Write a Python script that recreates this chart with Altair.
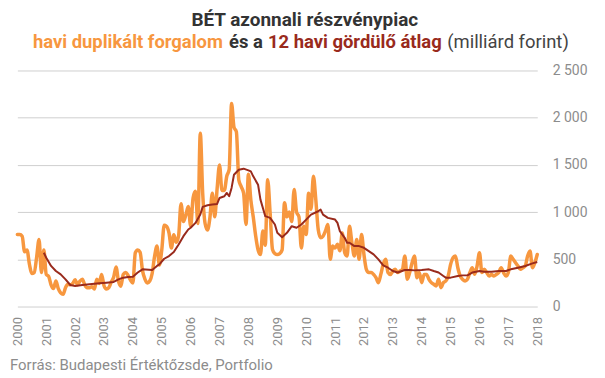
import altair as alt
import pandas as pd

# monthly duplicated turnover, Jan 2000 .. Jan 2018 (billion HUF)
orange = [763, 763, 745, 580, 600, 450, 350, 360, 520, 710,
          360, 600, 340, 320, 230, 190, 270, 190, 145, 130,
          200, 236, 230, 245, 285, 230, 270, 290, 230, 200,
          200, 210, 185, 290, 245, 340, 220, 185, 200, 260,
          310, 420, 270, 215, 340, 360, 330, 280, 250, 570,
          600, 575, 380, 290, 250, 270, 350, 530, 640, 440,
          600, 860, 850, 780, 620, 760, 680, 750, 1090, 900,
          970, 1060, 850, 1150, 1220, 880, 1836, 1200, 880, 810,
          940, 1200, 950, 1250, 1500, 1230, 1230, 1380, 1450, 2150,
          1900, 1850, 1340, 1270, 1200, 870, 1400, 1130, 950, 750,
          600, 550, 800, 650, 1343, 1000, 605, 560, 550, 560,
          600, 1100, 950, 1000, 900, 1240, 1000, 950,
          620, 850, 763, 1200, 1030, 1380, 1130, 815, 728, 745,
          800, 870, 500, 640, 620, 660, 590, 780, 570, 535,
          850, 675, 535, 710, 500, 763, 552, 394, 360, 360,
          340, 305, 253, 340, 447, 500, 360, 340, 376, 394,
          360, 376, 394, 535, 288, 360, 464, 535, 305, 360,
          253, 340, 340, 288, 253, 236, 218, 288, 200, 253,
          270, 323, 447, 517, 535, 411, 323, 288, 270, 288,
          360, 411, 341, 429, 570, 360, 394, 360, 323, 340,
          323, 340, 360, 411, 360, 323, 360, 535, 500, 464,
          429, 394, 411, 429, 535, 587, 411, 464, 552]

# 12-month rolling average, read at these month indices (0 = Jan 2000)
red_months = [11, 12, 14, 16, 18, 20, 22, 24, 27, 30,
              34, 37, 40, 42, 44, 46, 48, 50, 52, 56,
              58, 59, 61, 63, 65, 67, 69, 71, 72, 74,
              76, 77, 79, 81, 83, 84, 86, 87, 88, 89,
              90, 92, 94, 96, 97, 98, 100, 101, 103, 105,
              107, 108, 110, 112, 114, 116, 118, 120, 122, 125,
              126, 127, 129, 132, 133, 134, 136, 137, 138, 140,
              142, 144, 146, 148, 150, 152, 154, 156, 158, 161,
              163, 165, 168, 171, 173, 175, 177, 178, 180, 183,
              185, 187, 189, 192, 194, 197, 200, 203, 205, 208,
              211, 214, 216]
red_values = [570, 517, 430, 376, 341, 288, 228, 218, 228, 236,
              246, 253, 260, 288, 306, 313, 316, 360, 394, 387,
              430, 447, 506, 535, 577, 658, 745, 816, 834, 886,
              974, 1055, 1073, 1080, 1087, 1150, 1168, 1203, 1168, 1256,
              1396, 1449, 1460, 1442, 1431, 1379, 1291, 1132, 957, 939,
              869, 781, 735, 781, 851, 834, 869, 921, 974, 1009,
              1027, 974, 939, 921, 886, 798, 728, 675, 675, 640,
              640, 622, 587, 552, 500, 436, 411, 376, 360, 387,
              387, 383, 387, 394, 376, 360, 323, 306, 306, 323,
              330, 330, 360, 376, 369, 369, 376, 376, 394, 411,
              429, 457, 471]

years = list(range(2000, 2019))
y_ticks = [0, 500, 1000, 1500, 2000, 2500]

df_o = pd.DataFrame({"t": [2000 + i / 12 for i in range(len(orange))], "v": orange})
df_r = pd.DataFrame({"t": [2000 + m / 12 for m in red_months], "v": red_values})

W, H = 522, 237
FONT = "Roboto"
ORANGE = "#F7973F"
RED = "#992A1C"
DARK = "#333333"
GRAY = "#8c8c8c"

xscale = alt.Scale(domain=[2000, 2018], nice=False, zero=False)
yscale = alt.Scale(domain=[0, 2500], nice=False)

x_axis = alt.Axis(values=years, format="d", labelAngle=-90, labelAlign="right",
                  labelBaseline="middle", grid=False, ticks=False, domain=False,
                  labelFlush=False, labelPadding=10, labelFont=FONT,
                  labelFontSize=13, labelColor=GRAY, labelOverlap=False)
y_axis = alt.Axis(orient="right", values=y_ticks,
                  labelExpr="replace(format(datum.value, ','), ',', ' ')",
                  grid=True, gridColor="#cfcfcf", gridWidth=1, ticks=False,
                  domain=False, labelFlush=False, labelPadding=15,
                  labelAlign="left", labelFont=FONT, labelFontSize=14,
                  labelColor=GRAY, labelOverlap=False)

x_enc = alt.X("t:Q", scale=xscale, title=None, axis=x_axis)
y_enc = alt.Y("v:Q", scale=yscale, title=None, axis=y_axis)

orange_line = alt.Chart(df_o).mark_line(
    color=ORANGE, strokeWidth=3.5, interpolate="monotone", strokeJoin="round", strokeCap="round"
).encode(x=x_enc, y=y_enc)

red_line = alt.Chart(df_r).mark_line(color=RED, strokeWidth=2, strokeJoin="round").encode(
    x=x_enc, y=y_enc)


def txt(s, x, y, color, weight="normal", size=17, align="left"):
    return alt.Chart(pd.DataFrame({"s": [s]})).mark_text(
        align=align, baseline="alphabetic", font=FONT, fontSize=size, fontWeight=weight, color=color
    ).encode(text="s:N", x=alt.value(x), y=alt.value(y))


title1 = txt("BÉT azonnali részvénypiac", 288.6, -45, DARK, "bold", 19, "center")
t2a = txt("havi duplikált forgalom", 15.6, -23, ORANGE, "bold", 18.5)
t2b = txt("és a", 212.6, -23, DARK, "bold", 18.5)
t2c = txt("12 havi gördülő átlag", 251.6, -23, RED, "bold", 18.5)
t2d = txt("(milliárd forint)", 431.6, -23, "#444444", "normal", 18.5)
source = txt("Forrás: Budapesti Értéktőzsde, Portfolio", -7.4, 301, GRAY, "normal", 15)

chart = alt.layer(orange_line, red_line, title1, t2a, t2b, t2c, t2d, source).properties(
    width=W, height=H,
    autosize=alt.AutoSizeParams(type="none"),
    padding={"left": 9.4, "top": 62, "right": 60, "bottom": 68},
    background="white",
).configure_view(stroke=None).configure_axisX(labelOverlap=False)

chart.save("out.html", embed_options={"renderer": "svg", "actions": False})
